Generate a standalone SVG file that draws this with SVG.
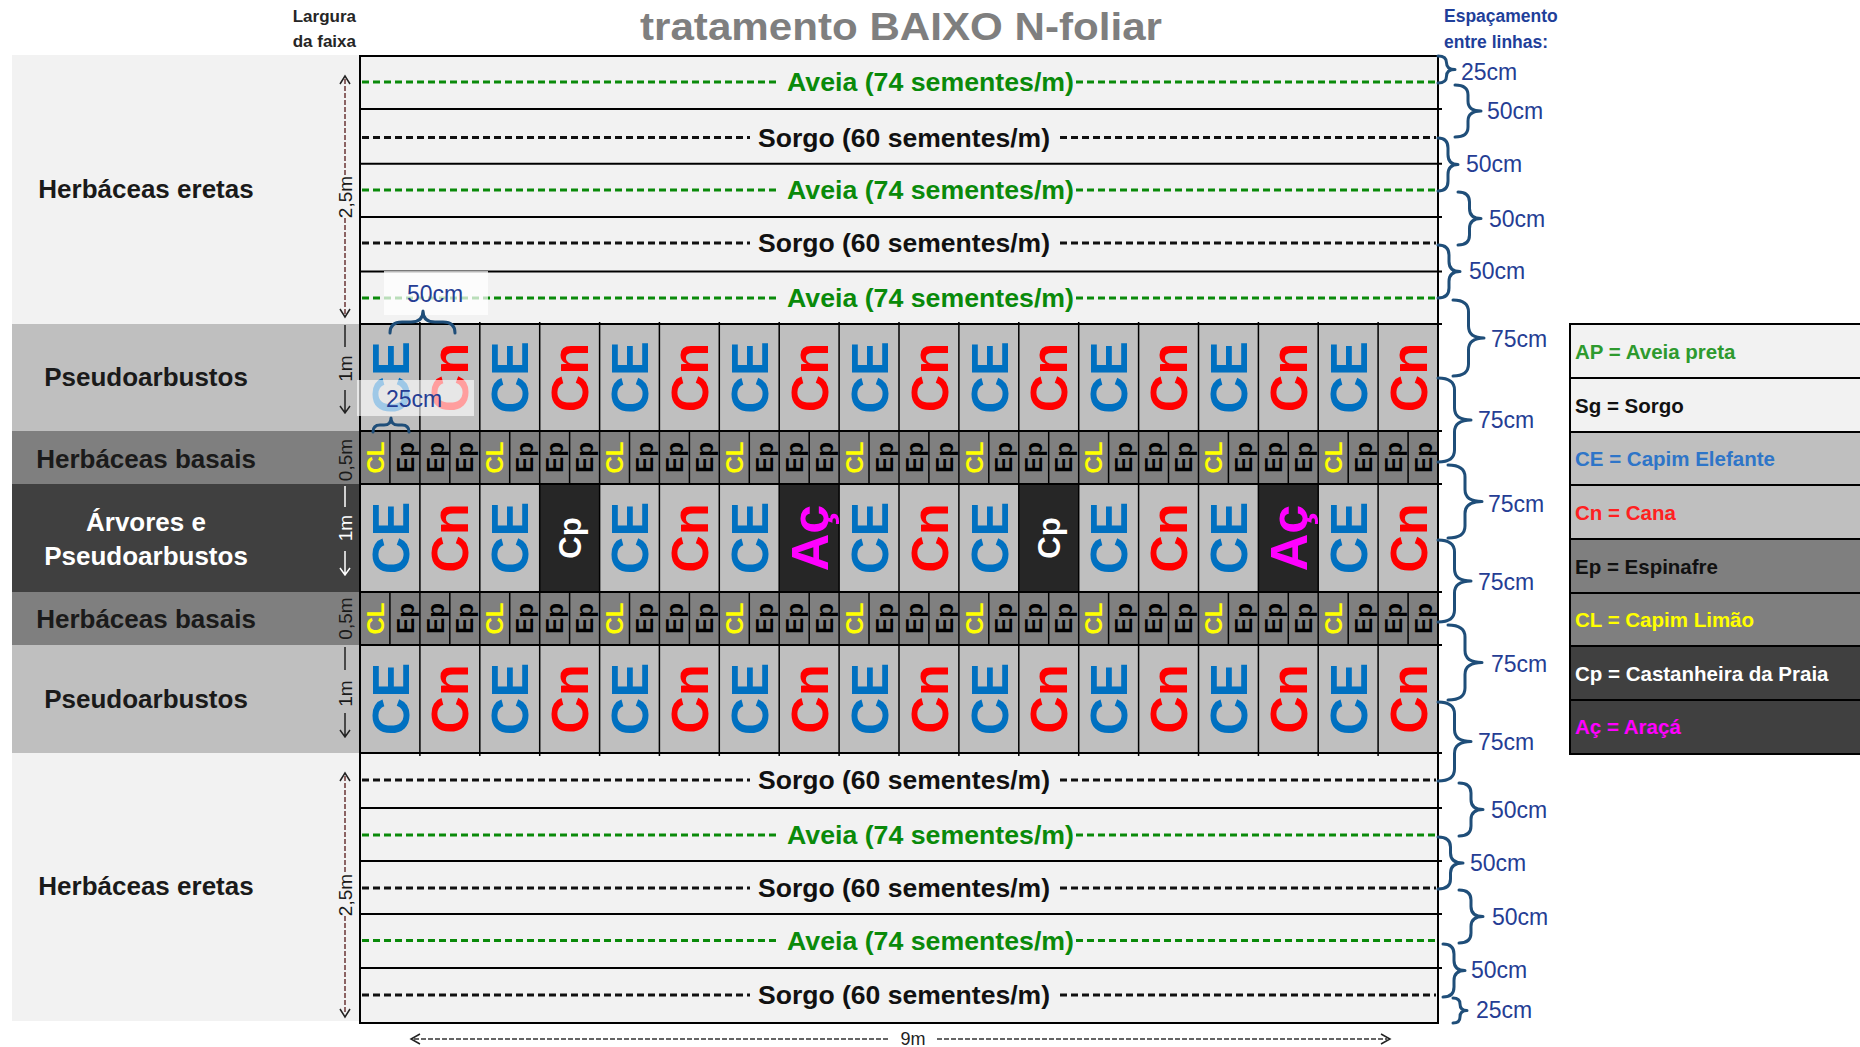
<svg xmlns="http://www.w3.org/2000/svg" width="1860" height="1047" viewBox="0 0 1860 1047">
<style>
text{font-family:"Liberation Sans",Arial,sans-serif}
.band{font-size:26px;font-weight:bold;fill:#1a1a1a;text-anchor:middle}
.big{font-size:52px;font-weight:bold;text-anchor:middle}
.sm{font-size:24px;font-weight:bold;text-anchor:middle}
.row{font-size:25px;font-weight:bold}
.av{fill:#0a8a0a}
.sg{fill:#111}
.cm{font-size:23px;fill:#253d94}
.dim{font-size:19px;fill:#1a1a1a;text-anchor:middle}
.lg{font-size:20.5px;font-weight:bold}
.brace{fill:none;stroke:#1f4e79;stroke-width:3;stroke-linecap:round;stroke-linejoin:round}
.dA{fill:none;stroke:#0a8a0a;stroke-width:3;stroke-dasharray:7 4}
.dS{fill:none;stroke:#111;stroke-width:3;stroke-dasharray:7 4}
.ln{fill:none;stroke:#000;stroke-width:2}
.vl{fill:none;stroke:#000;stroke-width:1.5}
.dl{fill:none;stroke:#6a3535;stroke-width:1.5;stroke-dasharray:5 2}
.ah{fill:none;stroke:#222;stroke-width:1.5}
</style>
<defs>
<text id="tCE" class="big" fill="#0070c0" transform="rotate(-90)" y="18.6">CE</text>
<text id="tCn" class="big" fill="#ff0000" transform="rotate(-90)" y="18.6">Cn</text>
<text id="tAc" class="big" fill="#ff00ff" transform="rotate(-90)" y="18.6">Aç</text>
<text id="tCp" font-size="31" font-weight="bold" text-anchor="middle" fill="#ffffff" transform="rotate(-90)" y="11.1">Cp</text>
<text id="tCL" class="sm" fill="#ffff00" transform="rotate(-90)" y="8.6">CL</text>
<text id="tEp" class="sm" fill="#000000" transform="rotate(-90)" y="8.6">Ep</text>
</defs>
<rect width="1860" height="1047" fill="#ffffff"/>

<g id="header">
<text x="640" y="40" font-size="38" font-weight="bold" fill="#7f7f7f" textLength="522" lengthAdjust="spacingAndGlyphs">tratamento BAIXO N-foliar</text>
<text x="356" y="22" text-anchor="end" font-size="17" font-weight="bold" fill="#262626">Largura</text>
<text x="356" y="47" text-anchor="end" font-size="17" font-weight="bold" fill="#262626">da faixa</text>
<text x="1444" y="22" font-size="17.5" font-weight="bold" fill="#1f3f9a">Espaçamento</text>
<text x="1444" y="48" font-size="17.5" font-weight="bold" fill="#1f3f9a">entre linhas:</text>
</g>

<g id="bands">
<g id="band-herb-top"><rect x="12" y="55" width="348" height="269" fill="#f2f2f2"/><text class="band" x="146" y="198">Herbáceas eretas</text></g>
<g id="band-pseudo-top"><rect x="12" y="324" width="348" height="107" fill="#bfbfbf"/><text class="band" x="146" y="386">Pseudoarbustos</text></g>
<g id="band-basal-1"><rect x="12" y="431" width="348" height="53" fill="#7f7f7f"/><text class="band" x="146" y="468">Herbáceas basais</text></g>
<g id="band-arvores"><rect x="12" y="484" width="348" height="108" fill="#404040"/><text class="band" x="146" y="531" fill="#ffffff" style="fill:#ffffff">Árvores e</text><text class="band" x="146" y="565" style="fill:#ffffff">Pseudoarbustos</text></g>
<g id="band-basal-2"><rect x="12" y="592" width="348" height="53" fill="#7f7f7f"/><text class="band" x="146" y="628">Herbáceas basais</text></g>
<g id="band-pseudo-bottom"><rect x="12" y="645" width="348" height="108" fill="#bfbfbf"/><text class="band" x="146" y="708">Pseudoarbustos</text></g>
<g id="band-herb-bottom"><rect x="12" y="753" width="348" height="268" fill="#f2f2f2"/><text class="band" x="146" y="895">Herbáceas eretas</text></g>
</g>

<g id="dimensions">
<path class="dl" d="M345 79V176M345 218V314"/>
<path class="ah" d="M340 84L345 76L350 84M340 309L345 317L350 309"/>
<text class="dim" transform="translate(351.8,197) rotate(-90)">2,5m</text>
<path class="dl" d="M345 776V874M345 916V1014"/>
<path class="ah" d="M340 781L345 773L350 781M340 1009L345 1017L350 1009"/>
<text class="dim" transform="translate(351.8,895) rotate(-90)">2,5m</text>
<path class="ah" d="M345 325V347M345 390V413M340 406L345 413L350 406"/>
<text class="dim" transform="translate(351.8,368.5) rotate(-90)">1m</text>
<text class="dim" transform="translate(351.8,460) rotate(-90)">0,5m</text>
<path class="ah" style="stroke:#ffffff" d="M345 486V507M345 551V575M340 568L345 575L350 568"/>
<text class="dim" style="fill:#ffffff" transform="translate(351.8,528) rotate(-90)">1m</text>
<text class="dim" transform="translate(351.8,618.5) rotate(-90)">0,5m</text>
<path class="ah" d="M345 647V670M345 713V737M340 730L345 737L350 730"/>
<text class="dim" transform="translate(351.8,693.5) rotate(-90)">1m</text>
<path class="dl" style="stroke:#333" d="M414 1039H890M937 1039H1387"/>
<path class="ah" d="M420 1034L411 1039L420 1044M1381 1034L1390 1039L1381 1044"/>
<text x="913" y="1045" font-size="18" text-anchor="middle" fill="#222">9m</text>
</g>

<g id="grid-bg">
<rect x="360" y="56" width="1078" height="268" fill="#f2f2f2"/>
<rect x="360" y="324" width="1078" height="107" fill="#bfbfbf"/>
<rect x="360" y="431" width="1078" height="53" fill="#808080"/>
<rect x="360" y="484" width="1078" height="108" fill="#bfbfbf"/>
<rect x="539.7" y="484" width="59.9" height="108" fill="#262626"/>
<rect x="779.2" y="484" width="59.9" height="108" fill="#262626"/>
<rect x="1018.8" y="484" width="59.9" height="108" fill="#262626"/>
<rect x="1258.4" y="484" width="59.9" height="108" fill="#262626"/>
<rect x="360" y="592" width="1078" height="53" fill="#808080"/>
<rect x="360" y="645" width="1078" height="108" fill="#bfbfbf"/>
<rect x="360" y="753" width="1078" height="270" fill="#f2f2f2"/>
</g>

<g id="grid-lines">
<path class="ln" d="M360 56H1438M360 109H1442M360 163.7H1442M360 217H1442M360 271.6H1442M360 324H1442M360 431H1442M360 484H1442M360 592H1442M360 645H1442M360 753H1442M360 808H1442M360 861H1442M360 914H1442M360 968H1442M360 1023H1438M360 55V1024M1438 55V1024"/>
<path class="vl" d="M419.9 322V756M479.8 322V756M539.7 322V756M599.6 322V756M659.4 322V756M719.3 322V756M779.2 322V756M839.1 322V756M899 322V756M958.9 322V756M1018.8 322V756M1078.7 322V756M1138.6 322V756M1198.5 322V756M1258.4 322V756M1318.2 322V756M1378.1 322V756"/>
<path class="vl" d="M389.9 431V484M449.8 431V484M509.7 431V484M569.6 431V484M629.5 431V484M689.4 431V484M749.3 431V484M809.2 431V484M869 431V484M928.9 431V484M988.8 431V484M1048.7 431V484M1108.6 431V484M1168.5 431V484M1228.4 431V484M1288.3 431V484M1348.2 431V484M1408.1 431V484M389.9 592V645M449.8 592V645M509.7 592V645M569.6 592V645M629.5 592V645M689.4 592V645M749.3 592V645M809.2 592V645M869 592V645M928.9 592V645M988.8 592V645M1048.7 592V645M1108.6 592V645M1168.5 592V645M1228.4 592V645M1288.3 592V645M1348.2 592V645M1408.1 592V645"/>
</g>

<g id="seed-rows">
<path class="dA" d="M362 82H780M1076 82H1436M362 190H780M1076 190H1436M362 298H780M1076 298H1436M362 835H780M1076 835H1436M362 940.5H780M1076 940.5H1436"/>
<path class="dS" d="M362 137.6H750M1060 137.6H1436M362 243H750M1060 243H1436M362 780H750M1060 780H1436M362 888H750M1060 888H1436M362 995H750M1060 995H1436"/>
<g id="row-aveia-1"><text class="row av" x="787" y="91" textLength="287" lengthAdjust="spacingAndGlyphs">Aveia (74 sementes/m)</text></g>
<g id="row-sorgo-1"><text class="row sg" x="758" y="146.6" textLength="292" lengthAdjust="spacingAndGlyphs">Sorgo (60 sementes/m)</text></g>
<g id="row-aveia-2"><text class="row av" x="787" y="199" textLength="287" lengthAdjust="spacingAndGlyphs">Aveia (74 sementes/m)</text></g>
<g id="row-sorgo-2"><text class="row sg" x="758" y="252" textLength="292" lengthAdjust="spacingAndGlyphs">Sorgo (60 sementes/m)</text></g>
<g id="row-aveia-3"><text class="row av" x="787" y="307" textLength="287" lengthAdjust="spacingAndGlyphs">Aveia (74 sementes/m)</text></g>
<g id="row-sorgo-3"><text class="row sg" x="758" y="789" textLength="292" lengthAdjust="spacingAndGlyphs">Sorgo (60 sementes/m)</text></g>
<g id="row-aveia-4"><text class="row av" x="787" y="844" textLength="287" lengthAdjust="spacingAndGlyphs">Aveia (74 sementes/m)</text></g>
<g id="row-sorgo-4"><text class="row sg" x="758" y="897" textLength="292" lengthAdjust="spacingAndGlyphs">Sorgo (60 sementes/m)</text></g>
<g id="row-aveia-5"><text class="row av" x="787" y="949.5" textLength="287" lengthAdjust="spacingAndGlyphs">Aveia (74 sementes/m)</text></g>
<g id="row-sorgo-5"><text class="row sg" x="758" y="1004" textLength="292" lengthAdjust="spacingAndGlyphs">Sorgo (60 sementes/m)</text></g>
</g>

<g id="row-pseudo-top">
<use id="p1-01" href="#tCE" x="389.9" y="377.5"/><use id="p1-02" href="#tCn" x="449.8" y="377.5"/>
<use id="p1-03" href="#tCE" x="509.7" y="377.5"/><use id="p1-04" href="#tCn" x="569.6" y="377.5"/>
<use id="p1-05" href="#tCE" x="629.5" y="377.5"/><use id="p1-06" href="#tCn" x="689.4" y="377.5"/>
<use id="p1-07" href="#tCE" x="749.3" y="377.5"/><use id="p1-08" href="#tCn" x="809.2" y="377.5"/>
<use id="p1-09" href="#tCE" x="869.1" y="377.5"/><use id="p1-10" href="#tCn" x="929" y="377.5"/>
<use id="p1-11" href="#tCE" x="988.9" y="377.5"/><use id="p1-12" href="#tCn" x="1048.8" y="377.5"/>
<use id="p1-13" href="#tCE" x="1108.7" y="377.5"/><use id="p1-14" href="#tCn" x="1168.6" y="377.5"/>
<use id="p1-15" href="#tCE" x="1228.5" y="377.5"/><use id="p1-16" href="#tCn" x="1288.4" y="377.5"/>
<use id="p1-17" href="#tCE" x="1348.3" y="377.5"/><use id="p1-18" href="#tCn" x="1408.2" y="377.5"/>
</g>

<g id="row-basal-1">
<use id="b1-01" href="#tCL" x="375" y="457.5"/><use id="b1-02" href="#tEp" x="404.9" y="457.5"/><use id="b1-03" href="#tEp" x="434.9" y="457.5"/><use id="b1-04" href="#tEp" x="464.8" y="457.5"/>
<use id="b1-05" href="#tCL" x="494.8" y="457.5"/><use id="b1-06" href="#tEp" x="524.7" y="457.5"/><use id="b1-07" href="#tEp" x="554.6" y="457.5"/><use id="b1-08" href="#tEp" x="584.6" y="457.5"/>
<use id="b1-09" href="#tCL" x="614.5" y="457.5"/><use id="b1-10" href="#tEp" x="644.5" y="457.5"/><use id="b1-11" href="#tEp" x="674.4" y="457.5"/><use id="b1-12" href="#tEp" x="704.4" y="457.5"/>
<use id="b1-13" href="#tCL" x="734.3" y="457.5"/><use id="b1-14" href="#tEp" x="764.3" y="457.5"/><use id="b1-15" href="#tEp" x="794.2" y="457.5"/><use id="b1-16" href="#tEp" x="824.2" y="457.5"/>
<use id="b1-17" href="#tCL" x="854.1" y="457.5"/><use id="b1-18" href="#tEp" x="884.1" y="457.5"/><use id="b1-19" href="#tEp" x="914" y="457.5"/><use id="b1-20" href="#tEp" x="944" y="457.5"/>
<use id="b1-21" href="#tCL" x="973.9" y="457.5"/><use id="b1-22" href="#tEp" x="1003.8" y="457.5"/><use id="b1-23" href="#tEp" x="1033.8" y="457.5"/><use id="b1-24" href="#tEp" x="1063.7" y="457.5"/>
<use id="b1-25" href="#tCL" x="1093.7" y="457.5"/><use id="b1-26" href="#tEp" x="1123.6" y="457.5"/><use id="b1-27" href="#tEp" x="1153.6" y="457.5"/><use id="b1-28" href="#tEp" x="1183.5" y="457.5"/>
<use id="b1-29" href="#tCL" x="1213.5" y="457.5"/><use id="b1-30" href="#tEp" x="1243.4" y="457.5"/><use id="b1-31" href="#tEp" x="1273.4" y="457.5"/><use id="b1-32" href="#tEp" x="1303.3" y="457.5"/>
<use id="b1-33" href="#tCL" x="1333.2" y="457.5"/><use id="b1-34" href="#tEp" x="1363.2" y="457.5"/><use id="b1-35" href="#tEp" x="1393.1" y="457.5"/><use id="b1-36" href="#tEp" x="1423.1" y="457.5"/>
</g>

<g id="row-arvores">
<use id="a-01" href="#tCE" x="389.9" y="538"/><use id="a-02" href="#tCn" x="449.8" y="538"/>
<use id="a-03" href="#tCE" x="509.7" y="538"/><use id="a-04" href="#tCp" x="569.6" y="538"/>
<use id="a-05" href="#tCE" x="629.5" y="538"/><use id="a-06" href="#tCn" x="689.4" y="538"/>
<use id="a-07" href="#tCE" x="749.3" y="538"/><use id="a-08" href="#tAc" x="809.2" y="538"/>
<use id="a-09" href="#tCE" x="869.1" y="538"/><use id="a-10" href="#tCn" x="929" y="538"/>
<use id="a-11" href="#tCE" x="988.9" y="538"/><use id="a-12" href="#tCp" x="1048.8" y="538"/>
<use id="a-13" href="#tCE" x="1108.7" y="538"/><use id="a-14" href="#tCn" x="1168.6" y="538"/>
<use id="a-15" href="#tCE" x="1228.5" y="538"/><use id="a-16" href="#tAc" x="1288.4" y="538"/>
<use id="a-17" href="#tCE" x="1348.3" y="538"/><use id="a-18" href="#tCn" x="1408.2" y="538"/>
</g>

<g id="row-basal-2">
<use id="b2-01" href="#tCL" x="375" y="618.5"/><use id="b2-02" href="#tEp" x="404.9" y="618.5"/><use id="b2-03" href="#tEp" x="434.9" y="618.5"/><use id="b2-04" href="#tEp" x="464.8" y="618.5"/>
<use id="b2-05" href="#tCL" x="494.8" y="618.5"/><use id="b2-06" href="#tEp" x="524.7" y="618.5"/><use id="b2-07" href="#tEp" x="554.6" y="618.5"/><use id="b2-08" href="#tEp" x="584.6" y="618.5"/>
<use id="b2-09" href="#tCL" x="614.5" y="618.5"/><use id="b2-10" href="#tEp" x="644.5" y="618.5"/><use id="b2-11" href="#tEp" x="674.4" y="618.5"/><use id="b2-12" href="#tEp" x="704.4" y="618.5"/>
<use id="b2-13" href="#tCL" x="734.3" y="618.5"/><use id="b2-14" href="#tEp" x="764.3" y="618.5"/><use id="b2-15" href="#tEp" x="794.2" y="618.5"/><use id="b2-16" href="#tEp" x="824.2" y="618.5"/>
<use id="b2-17" href="#tCL" x="854.1" y="618.5"/><use id="b2-18" href="#tEp" x="884.1" y="618.5"/><use id="b2-19" href="#tEp" x="914" y="618.5"/><use id="b2-20" href="#tEp" x="944" y="618.5"/>
<use id="b2-21" href="#tCL" x="973.9" y="618.5"/><use id="b2-22" href="#tEp" x="1003.8" y="618.5"/><use id="b2-23" href="#tEp" x="1033.8" y="618.5"/><use id="b2-24" href="#tEp" x="1063.7" y="618.5"/>
<use id="b2-25" href="#tCL" x="1093.7" y="618.5"/><use id="b2-26" href="#tEp" x="1123.6" y="618.5"/><use id="b2-27" href="#tEp" x="1153.6" y="618.5"/><use id="b2-28" href="#tEp" x="1183.5" y="618.5"/>
<use id="b2-29" href="#tCL" x="1213.5" y="618.5"/><use id="b2-30" href="#tEp" x="1243.4" y="618.5"/><use id="b2-31" href="#tEp" x="1273.4" y="618.5"/><use id="b2-32" href="#tEp" x="1303.3" y="618.5"/>
<use id="b2-33" href="#tCL" x="1333.2" y="618.5"/><use id="b2-34" href="#tEp" x="1363.2" y="618.5"/><use id="b2-35" href="#tEp" x="1393.1" y="618.5"/><use id="b2-36" href="#tEp" x="1423.1" y="618.5"/>
</g>

<g id="row-pseudo-bottom">
<use id="p2-01" href="#tCE" x="389.9" y="699"/><use id="p2-02" href="#tCn" x="449.8" y="699"/>
<use id="p2-03" href="#tCE" x="509.7" y="699"/><use id="p2-04" href="#tCn" x="569.6" y="699"/>
<use id="p2-05" href="#tCE" x="629.5" y="699"/><use id="p2-06" href="#tCn" x="689.4" y="699"/>
<use id="p2-07" href="#tCE" x="749.3" y="699"/><use id="p2-08" href="#tCn" x="809.2" y="699"/>
<use id="p2-09" href="#tCE" x="869.1" y="699"/><use id="p2-10" href="#tCn" x="929" y="699"/>
<use id="p2-11" href="#tCE" x="988.9" y="699"/><use id="p2-12" href="#tCn" x="1048.8" y="699"/>
<use id="p2-13" href="#tCE" x="1108.7" y="699"/><use id="p2-14" href="#tCn" x="1168.6" y="699"/>
<use id="p2-15" href="#tCE" x="1228.5" y="699"/><use id="p2-16" href="#tCn" x="1288.4" y="699"/>
<use id="p2-17" href="#tCE" x="1348.3" y="699"/><use id="p2-18" href="#tCn" x="1408.2" y="699"/>
</g>

<g id="spacing-notes">
<g id="note-50"><rect x="384" y="271" width="104" height="44" fill="#ffffff" fill-opacity="0.72"/><text class="cm" x="407" y="302">50cm</text><path class="brace" d="M390 333Q390 322 402 322L411 322Q423 322 423 311Q423 322 435 322L443 322Q455 322 455 333"/></g>
<g id="note-25"><rect x="357" y="380" width="117" height="36" fill="#ffffff" fill-opacity="0.62"/><text class="cm" x="386" y="407">25cm</text><path class="brace" d="M373 432Q373 425 380 425L384 425Q391 425 391 418Q391 425 398 425L402 425Q409 425 409 432"/></g>
</g>

<g id="braces">
<path class="brace" d="M1438 56Q1446.5 56 1446.5 62.75Q1446.5 69.5 1455 69.5Q1446.5 69.5 1446.5 76.25Q1446.5 83 1438 83"/>
<path class="brace" d="M1455 85Q1468 85 1468 95L1468 101Q1468 111 1481 111Q1468 111 1468 121L1468 127Q1468 137 1455 137"/>
<path class="brace" d="M1438 138Q1448 138 1448 148L1448 154.5Q1448 164.5 1458 164.5Q1448 164.5 1448 174.5L1448 181Q1448 191 1438 191"/>
<path class="brace" d="M1458 192Q1469.5 192 1469.5 202L1469.5 208.5Q1469.5 218.5 1481 218.5Q1469.5 218.5 1469.5 228.5L1469.5 235Q1469.5 245 1458 245"/>
<path class="brace" d="M1438 245Q1449 245 1449 255L1449 261.5Q1449 271.5 1460 271.5Q1449 271.5 1449 281.5L1449 288Q1449 298 1438 298"/>
<path class="brace" d="M1453 300Q1468.5 300 1468.5 312L1468.5 326Q1468.5 338 1484 338Q1468.5 338 1468.5 350L1468.5 364Q1468.5 376 1453 376"/>
<path class="brace" d="M1438 378Q1454.5 378 1454.5 390L1454.5 408Q1454.5 420 1471 420Q1454.5 420 1454.5 432L1454.5 450Q1454.5 462 1438 462"/>
<path class="brace" d="M1448 465Q1465 465 1465 477L1465 489.5Q1465 501.5 1482 501.5Q1465 501.5 1465 513.5L1465 526Q1465 538 1448 538"/>
<path class="brace" d="M1438 540Q1454.5 540 1454.5 552L1454.5 569Q1454.5 581 1471 581Q1454.5 581 1454.5 593L1454.5 610Q1454.5 622 1438 622"/>
<path class="brace" d="M1448 625Q1465 625 1465 637L1465 650.5Q1465 662.5 1482 662.5Q1465 662.5 1465 674.5L1465 688Q1465 700 1448 700"/>
<path class="brace" d="M1438 702Q1454.5 702 1454.5 714L1454.5 729.5Q1454.5 741.5 1471 741.5Q1454.5 741.5 1454.5 753.5L1454.5 769Q1454.5 781 1438 781"/>
<path class="brace" d="M1459 783Q1471 783 1471 793L1471 799.5Q1471 809.5 1483 809.5Q1471 809.5 1471 819.5L1471 826Q1471 836 1459 836"/>
<path class="brace" d="M1438 837Q1450.5 837 1450.5 847L1450.5 853Q1450.5 863 1463 863Q1450.5 863 1450.5 873L1450.5 879Q1450.5 889 1438 889"/>
<path class="brace" d="M1459 890Q1471 890 1471 900L1471 906.5Q1471 916.5 1483 916.5Q1471 916.5 1471 926.5L1471 933Q1471 943 1459 943"/>
<path class="brace" d="M1443 944Q1454 944 1454 954L1454 960.5Q1454 970.5 1465 970.5Q1454 970.5 1454 980.5L1454 987Q1454 997 1443 997"/>
<path class="brace" d="M1453 998Q1460 998 1460 1004Q1460 1010.5 1467 1010.5Q1460 1010.5 1460 1017Q1460 1023 1453 1023"/>
<text class="cm" x="1461" y="80">25cm</text>
<text class="cm" x="1487" y="119">50cm</text>
<text class="cm" x="1466" y="172">50cm</text>
<text class="cm" x="1489" y="227">50cm</text>
<text class="cm" x="1469" y="279">50cm</text>
<text class="cm" x="1491" y="347">75cm</text>
<text class="cm" x="1478" y="428">75cm</text>
<text class="cm" x="1488" y="512">75cm</text>
<text class="cm" x="1478" y="590">75cm</text>
<text class="cm" x="1491" y="672">75cm</text>
<text class="cm" x="1478" y="750">75cm</text>
<text class="cm" x="1491" y="818">50cm</text>
<text class="cm" x="1470" y="871">50cm</text>
<text class="cm" x="1492" y="925">50cm</text>
<text class="cm" x="1471" y="978">50cm</text>
<text class="cm" x="1476" y="1018">25cm</text>
</g>

<g id="legend">
<g id="lg-ap"><rect x="1570" y="324" width="290" height="54" fill="#f2f2f2"/><text class="lg" x="1575" y="359" fill="#2e9a2e">AP = Aveia preta</text></g>
<g id="lg-sg"><rect x="1570" y="378" width="290" height="54" fill="#f2f2f2"/><text class="lg" x="1575" y="413" fill="#111111">Sg = Sorgo</text></g>
<g id="lg-ce"><rect x="1570" y="432" width="290" height="53" fill="#bfbfbf"/><text class="lg" x="1575" y="466" fill="#2e75c8">CE = Capim Elefante</text></g>
<g id="lg-cn"><rect x="1570" y="485" width="290" height="54" fill="#bfbfbf"/><text class="lg" x="1575" y="520" fill="#ff2020">Cn = Cana</text></g>
<g id="lg-ep"><rect x="1570" y="539" width="290" height="54" fill="#7f7f7f"/><text class="lg" x="1575" y="573.5" fill="#111111">Ep = Espinafre</text></g>
<g id="lg-cl"><rect x="1570" y="593" width="290" height="53" fill="#7f7f7f"/><text class="lg" x="1575" y="627" fill="#ffff00">CL = Capim Limão</text></g>
<g id="lg-cp"><rect x="1570" y="646" width="290" height="54" fill="#404040"/><text class="lg" x="1575" y="680.5" fill="#ffffff">Cp = Castanheira da Praia</text></g>
<g id="lg-ac"><rect x="1570" y="700" width="290" height="54" fill="#404040"/><text class="lg" x="1575" y="734" fill="#ff00ff">Aç = Araçá</text></g>
<path class="ln" d="M1570 324H1860M1570 378H1860M1570 432H1860M1570 485H1860M1570 539H1860M1570 593H1860M1570 646H1860M1570 700H1860M1570 754H1860M1570 323V755"/>
</g>
</svg>
